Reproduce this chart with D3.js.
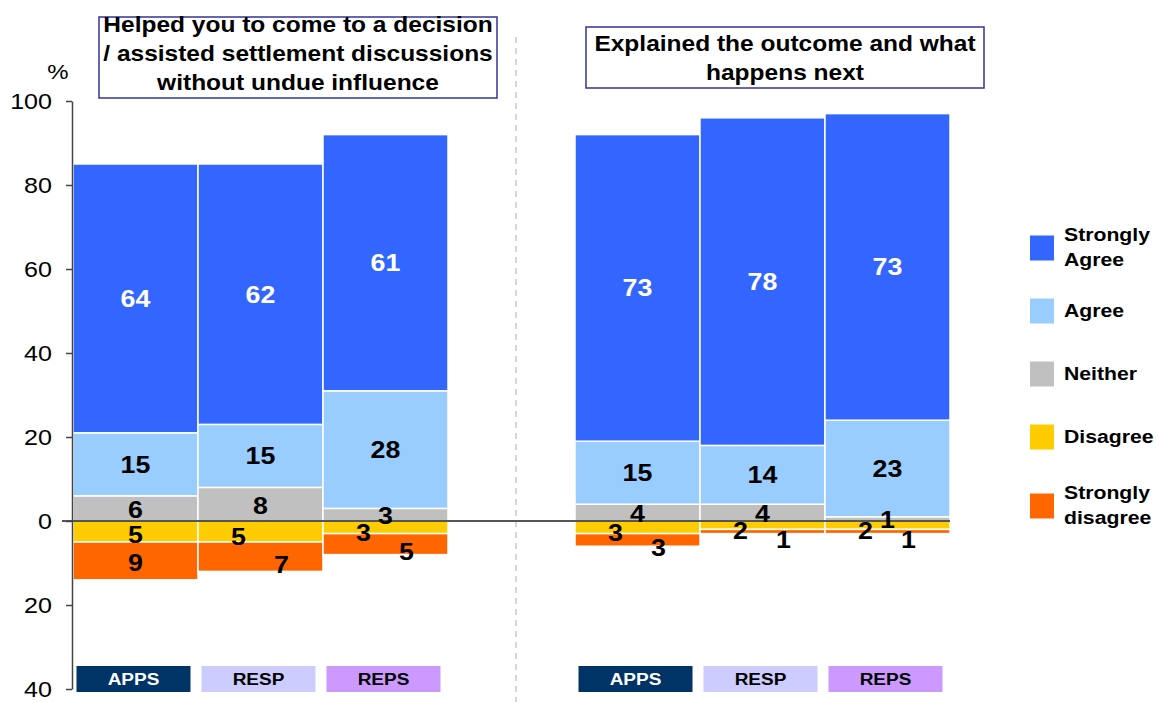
<!DOCTYPE html>
<html>
<head>
<meta charset="utf-8">
<script src="https://cdn.jsdelivr.net/npm/d3@7"></script>
<style>
  body { margin: 0; background: #fff; }
  svg { display: block; font-family: "Liberation Sans", Arial, sans-serif; }
</style>
</head>
<body>
<script>
// chart data
const groupTitles = [
  ['Helped you to come to a decision', '/ assisted settlement discussions', 'without undue influence'],
  ['Explained the outcome and what', 'happens next']
];
const categories = ['APPS', 'RESP', 'REPS'];
const seriesNames = ['Strongly Agree', 'Agree', 'Neither', 'Disagree', 'Strongly disagree'];

// values per group, in category order
const stronglyAgree = [[64, 62, 61], [73, 78, 73]];
const agree = [[15, 15, 28], [15, 14, 23]];
const neither = [[6, 8, 3], [4, 4, 1]];
const disagree = [[5, 5, 3], [3, 2, 2]];
const stronglyDisagree = [[9, 7, 5], [3, 1, 1]];

const yTicks = [-40, -20, 0, 20, 40, 60, 80, 100];

const colors = {
  'Strongly Agree': '#3366FF',
  'Agree': '#99CCFF',
  'Neither': '#C0C0C0',
  'Disagree': '#FFCC00',
  'Strongly disagree': '#FF6600'
};
const catFill = { APPS: '#003366', RESP: '#CCCCFF', REPS: '#CC99FF' };
const catText = { APPS: '#fff', RESP: '#000', REPS: '#000' };

// the original text is a bit wider than Liberation Sans
const wide = 1.14;

const W = 1158, H = 702;
const svg = d3.select('body').append('svg').attr('width', W).attr('height', H);

const y = d3.scaleLinear().domain([-40, 100]).range([689, 101]);
const xGroup = d3.scaleBand().domain([0, 1]).range([73, 950]).paddingInner(0.253);
const xCat = d3.scaleBand().domain(categories).range([0, xGroup.bandwidth()]);

// build the segments: positives stacked up from 0, negatives down from 0
const valuesBySeries = {
  'Strongly Agree': stronglyAgree,
  'Agree': agree,
  'Neither': neither,
  'Disagree': disagree,
  'Strongly disagree': stronglyDisagree
};
const segments = [];
[0, 1].forEach(g => {
  categories.forEach((c, i) => {
    let up = 0, down = 0;
    const negTotal = disagree[g][i] + stronglyDisagree[g][i];
    ['Neither', 'Agree', 'Strongly Agree'].forEach(s => {
      const v = valuesBySeries[s][g][i];
      segments.push({ g, c, s, v, y0: up, y1: up + v, tight: false });
      up += v;
    });
    ['Disagree', 'Strongly disagree'].forEach(s => {
      const v = valuesBySeries[s][g][i];
      segments.push({ g, c, s, v, y0: down - v, y1: down, tight: negTotal < 14 });
      down -= v;
    });
  });
});

// dashed divider between the two questions
svg.append('line')
  .attr('x1', 516).attr('x2', 516)
  .attr('y1', 37).attr('y2', H)
  .attr('stroke', '#bbb')
  .attr('stroke-width', 1.2)
  .attr('stroke-dasharray', '6,5');

// bars
const barX = d => xGroup(d.g) + xCat(d.c);
svg.append('g')
  .selectAll('rect')
  .data(segments)
  .join('rect')
  .attr('x', barX)
  .attr('y', d => y(d.y1))
  .attr('width', xCat.bandwidth())
  .attr('height', d => y(d.y0) - y(d.y1))
  .attr('fill', d => colors[d.s])
  .attr('stroke', '#fff')
  .attr('stroke-width', 1.5);

// zero line
svg.append('line')
  .attr('x1', 62).attr('x2', 950)
  .attr('y1', y(0)).attr('y2', y(0))
  .attr('stroke', '#555')
  .attr('stroke-width', 2);

// value labels (small negative segments get pushed sideways)
const labelDx = d => {
  if (!d.tight) return 0;
  return d.s === 'Disagree' ? -22 : 21;
};
const labelDy = d => {
  if (d.s === 'Neither') return 1;
  if (d.s === 'Disagree') return d.tight ? 5 : 3;
  if (d.s === 'Strongly disagree') return d.tight ? 8 : 2;
  return 0;
};
svg.append('g')
  .selectAll('text')
  .data(segments)
  .join('text')
  .attr('transform', d => `translate(${barX(d) + xCat.bandwidth() / 2 + labelDx(d)},${y((d.y0 + d.y1) / 2) + labelDy(d)}) scale(${wide},1)`)
  .attr('text-anchor', 'middle')
  .attr('dominant-baseline', 'central')
  .style('font-size', '23.5px')
  .style('font-weight', 'bold')
  .attr('fill', d => d.s === 'Strongly Agree' ? '#fff' : '#000')
  .text(d => d.v);

// y axis
const yAxis = d3.axisLeft(y)
  .tickValues(yTicks)
  .tickFormat(d => Math.abs(d))
  .tickSize(6)
  .tickSizeOuter(0)
  .tickPadding(13);
const axisG = svg.append('g')
  .attr('transform', 'translate(72,0)')
  .call(yAxis);
axisG.select('.domain').attr('stroke', '#444').attr('stroke-width', 1.5);
axisG.selectAll('.tick line').attr('stroke', '#444').attr('stroke-width', 1.5);
axisG.selectAll('.tick text')
  .attr('x', null)
  .attr('transform', `translate(-20,0) scale(${wide},1)`)
  .style('font-size', '22px')
  .style('font-family', '"Liberation Sans", Arial, sans-serif')
  .attr('fill', '#000');

svg.append('text')
  .attr('transform', `translate(58,79) scale(${wide},1)`)
  .attr('text-anchor', 'middle')
  .style('font-size', '21px')
  .text('%');

// question title boxes
const titleBoxes = [
  { x: 99, y: 17, w: 398, h: 81, top: 25 },
  { x: 586, y: 27, w: 398, h: 61, top: 44 }
];
groupTitles.forEach((lines, g) => {
  const b = titleBoxes[g];
  svg.append('rect')
    .attr('x', b.x).attr('y', b.y)
    .attr('width', b.w).attr('height', b.h)
    .attr('fill', '#fff')
    .attr('stroke', '#333399')
    .attr('stroke-width', 1.5);
  svg.append('text')
    .attr('transform', `translate(${b.x + b.w / 2},0) scale(${wide},1)`)
    .attr('text-anchor', 'middle')
    .style('font-size', '21.5px')
    .style('font-weight', 'bold')
    .selectAll('tspan')
    .data(lines)
    .join('tspan')
    .attr('x', 0)
    .attr('y', (d, i) => b.top + i * 29)
    .attr('dominant-baseline', 'central')
    .text(d => d);
});

// category boxes under the bars
const catBoxes = [];
[0, 1].forEach(g => categories.forEach(c => catBoxes.push({ g, c })));
const catG = svg.append('g')
  .selectAll('g')
  .data(catBoxes)
  .join('g')
  .attr('transform', d => `translate(${xGroup(d.g) + xCat(d.c) + xCat.bandwidth() / 2 - 2},679)`);
catG.append('rect')
  .attr('x', -57).attr('y', -13)
  .attr('width', 114).attr('height', 26)
  .attr('fill', d => catFill[d.c]);
catG.append('text')
  .attr('transform', `scale(${wide * 0.98},1)`)
  .attr('text-anchor', 'middle')
  .attr('dominant-baseline', 'central')
  .style('font-size', '17px')
  .style('font-weight', 'bold')
  .attr('fill', d => catText[d.c])
  .text(d => d.c);

// legend
const legendY = [248, 311, 374, 437, 506];
const legendLines = [['Strongly', 'Agree'], ['Agree'], ['Neither'], ['Disagree'], ['Strongly', 'disagree']];
const legend = svg.append('g')
  .selectAll('g')
  .data(seriesNames)
  .join('g')
  .attr('transform', (d, i) => `translate(1030,${legendY[i]})`);
legend.append('rect')
  .attr('x', 0).attr('y', -12.5)
  .attr('width', 24).attr('height', 25)
  .attr('fill', d => colors[d]);
legend.append('text')
  .attr('transform', `translate(34,0) scale(${wide * 0.98},1)`)
  .style('font-size', '19px')
  .style('font-weight', 'bold')
  .selectAll('tspan')
  .data((d, i) => legendLines[i].map((t, k, arr) => ({ t, k, n: arr.length })))
  .join('tspan')
  .attr('x', 0)
  .attr('y', d => (d.k - (d.n - 1) / 2) * 25 - 1)
  .attr('dominant-baseline', 'central')
  .text(d => d.t);
</script>
</body>
</html>
